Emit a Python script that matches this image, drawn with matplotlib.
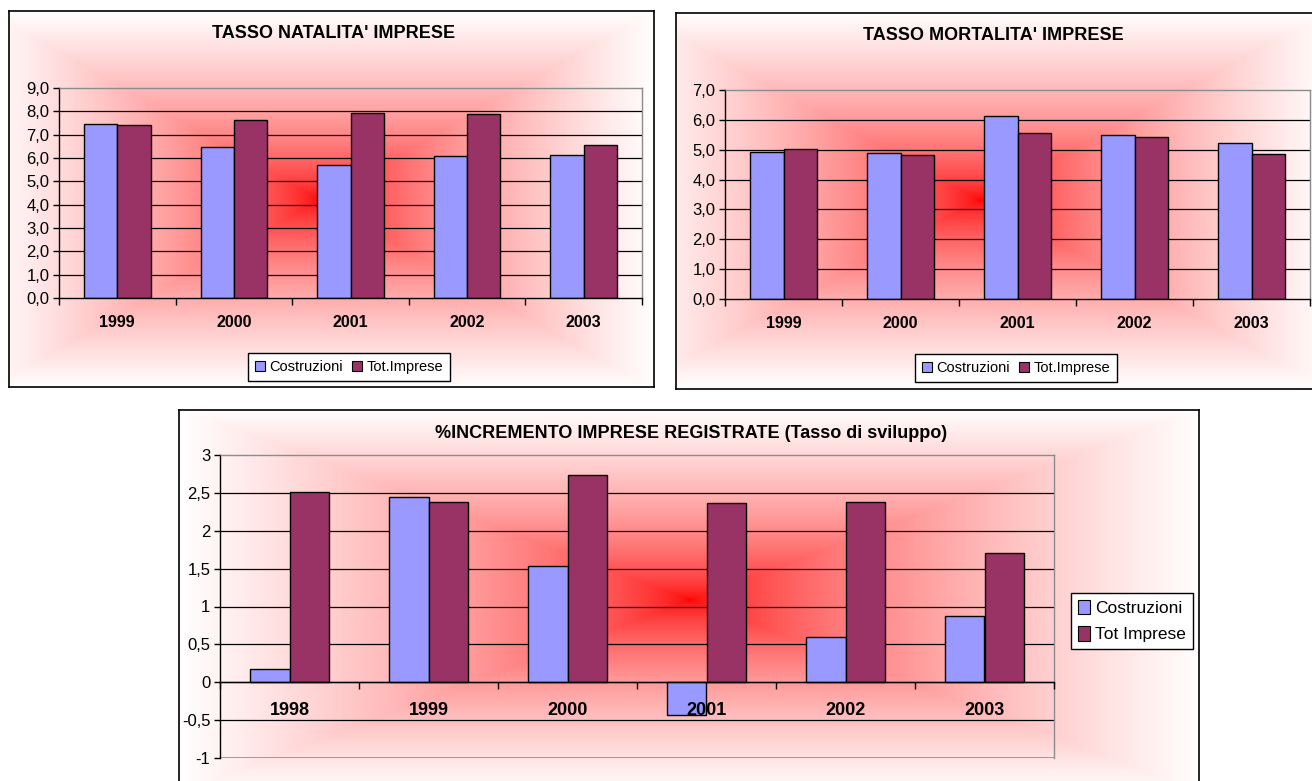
import matplotlib.pyplot as plt
import numpy as np
from matplotlib.patches import Patch

plt.rcParams["font.family"] = ["Liberation Sans", "DejaVu Sans"]

W, H = 1312, 781

COL_COSTR = "#9999FF"
COL_TOT = "#993366"

YEARS_NAT = ["1999", "2000", "2001", "2002", "2003"]
NAT_COSTRUZIONI = [7.46, 6.49, 5.70, 6.07, 6.13]
NAT_TOT = [7.40, 7.64, 7.93, 7.89, 6.54]

YEARS_MORT = ["1999", "2000", "2001", "2002", "2003"]
MORT_COSTRUZIONI = [4.91, 4.90, 6.13, 5.48, 5.24]
MORT_TOT = [5.01, 4.82, 5.57, 5.43, 4.86]

YEARS_SVIL = ["1998", "1999", "2000", "2001", "2002", "2003"]
SVIL_COSTRUZIONI = [0.17, 2.45, 1.54, -0.43, 0.60, 0.88]
SVIL_TOT = [2.51, 2.38, 2.73, 2.36, 2.38, 1.70]


def px_rect(x0, y0, x1, y1):
    # pixel box (top-left origin) -> figure fraction rect
    return [x0 / W, 1 - y1 / H, (x1 - x0) / W, (y1 - y0) / H]


def gradient_bg(fig, box, center):
    x0, y0, x1, y1 = box
    ax = fig.add_axes(px_rect(*box), zorder=0)
    xs = np.arange(x0, x1) + 0.5
    ys = np.arange(y0, y1) + 0.5
    gx, gy = np.meshgrid(xs, ys)
    hx = max(center[0] - x0, x1 - center[0])
    hy = max(center[1] - y0, y1 - center[1])
    t = np.maximum(np.abs(gx - center[0]) / hx, np.abs(gy - center[1]) / hy)
    t = np.clip(t, 0, 1) ** 0.6
    img = np.ones((len(ys), len(xs), 3))
    img[..., 1] = t
    img[..., 2] = t
    ax.imshow(img, extent=[0, 1, 0, 1], aspect="auto", interpolation="bilinear")
    ax.set_xlim(0, 1)
    ax.set_ylim(0, 1)
    ax.set_xticks([])
    ax.set_yticks([])
    for s in ax.spines.values():
        s.set_color("black")
        s.set_linewidth(1.2)
    return ax


def bar_panel(fig, plot, years, costr, tot, ylim, yticks, ylabels,
              year_size=11.5, zero_axis=False):
    ax = fig.add_axes(px_rect(*plot), zorder=2)
    ax.patch.set_alpha(0)
    if zero_axis:
        # category axis crosses the value axis at 0
        ax.spines["bottom"].set_position(("data", 0))
    x = np.arange(len(years))
    w = 1 / 3.5
    ax.bar(x - w / 2, costr, w, color=COL_COSTR, edgecolor="black", lw=1, zorder=2)
    ax.bar(x + w / 2, tot, w, color=COL_TOT, edgecolor="black", lw=1, zorder=2)
    ax.set_axisbelow(False)
    ax.set_xlim(-0.5, len(years) - 0.5)
    ax.set_ylim(*ylim)

    for v in yticks:
        if ylim[0] < v < ylim[1]:
            ax.axhline(v, color="black", lw=0.9, zorder=1)
    ax.set_yticks(yticks)
    ax.set_yticklabels(ylabels, fontsize=12)
    ax.tick_params(axis="y", direction="out", length=4, width=1, pad=3)

    # ticks at category boundaries, labels centred on the groups
    ax.set_xticks(np.arange(len(years) + 1) - 0.5)
    ax.set_xticklabels([])
    ax.set_xticks(x, minor=True)
    ax.set_xticklabels(years, minor=True, fontsize=year_size, fontweight="bold")
    ax.tick_params(axis="x", which="major", direction="out", length=5, width=1)
    ax.tick_params(axis="x", which="minor", length=0, pad=14 if zero_axis else 12)

    ax.spines["left"].set_color("black")
    ax.spines["bottom"].set_color("black")
    ax.spines["top"].set_color("#8c8c8c")
    ax.spines["right"].set_color("#8c8c8c")
    for s in ax.spines.values():
        s.set_linewidth(1)
    if zero_axis:
        ax.axhline(ylim[0], color="#8c8c8c", lw=1.2, zorder=1)
    return ax


def legend_handles():
    return [Patch(facecolor=COL_COSTR, edgecolor="black", lw=0.8),
            Patch(facecolor=COL_TOT, edgecolor="black", lw=0.8)]


fig = plt.figure(figsize=(W / 100, H / 100), dpi=100)

# natalita'
gradient_bg(fig, (9, 11, 654, 387), (320, 200))
fig.text(334 / W, 1 - 34 / H, "TASSO NATALITA' IMPRESE", ha="center", va="center",
         fontsize=13, fontweight="bold", zorder=5)
bar_panel(fig, (59, 88, 642, 298), YEARS_NAT, NAT_COSTRUZIONI, NAT_TOT,
          (0, 9), np.arange(0, 10), [f"{v:.1f}".replace(".", ",") for v in range(0, 10)])
fig.legend(legend_handles(), ["Costruzioni", "Tot.Imprese"], loc="center",
           bbox_to_anchor=(349 / W, 1 - 367 / H), ncol=2, fontsize=10.5,
           frameon=True, fancybox=False, edgecolor="black", framealpha=1,
           handlelength=0.7, handleheight=0.7, handletextpad=0.3,
           columnspacing=0.6, borderpad=0.5)

# mortalita'
gradient_bg(fig, (676, 13, 1330, 389), (980, 200))
fig.text(993 / W, 1 - 35 / H, "TASSO MORTALITA' IMPRESE", ha="center", va="center",
         fontsize=13, fontweight="bold", zorder=5)
bar_panel(fig, (725, 90, 1310, 299), YEARS_MORT, MORT_COSTRUZIONI, MORT_TOT,
          (0, 7), np.arange(0, 8), [f"{v:.1f}".replace(".", ",") for v in range(0, 8)])
fig.legend(legend_handles(), ["Costruzioni", "Tot.Imprese"], loc="center",
           bbox_to_anchor=(1016 / W, 1 - 368 / H), ncol=2, fontsize=10.5,
           frameon=True, fancybox=False, edgecolor="black", framealpha=1,
           handlelength=0.7, handleheight=0.7, handletextpad=0.3,
           columnspacing=0.6, borderpad=0.5)

# tasso di sviluppo
gradient_bg(fig, (179, 410, 1199, 792), (690, 600))
fig.text(691 / W, 1 - 433 / H, "%INCREMENTO IMPRESE REGISTRATE (Tasso di sviluppo)",
         ha="center", va="center", fontsize=13, fontweight="bold", zorder=5)
svil_ticks = [-1, -0.5, 0, 0.5, 1, 1.5, 2, 2.5, 3]
svil_labels = [f"{v:g}".replace(".", ",") for v in svil_ticks]
bar_panel(fig, (220, 455, 1054, 758), YEARS_SVIL, SVIL_COSTRUZIONI, SVIL_TOT,
          (-1, 3), svil_ticks, svil_labels, year_size=13, zero_axis=True)
fig.legend(legend_handles(), ["Costruzioni", "Tot Imprese"], loc="center",
           bbox_to_anchor=(1132 / W, 1 - 621 / H), ncol=1, fontsize=12.5,
           frameon=True, fancybox=False, edgecolor="black", framealpha=1,
           handlelength=0.7, handleheight=0.9, handletextpad=0.3,
           labelspacing=0.6, borderpad=0.4)

fig.savefig("out.png", dpi=100)
